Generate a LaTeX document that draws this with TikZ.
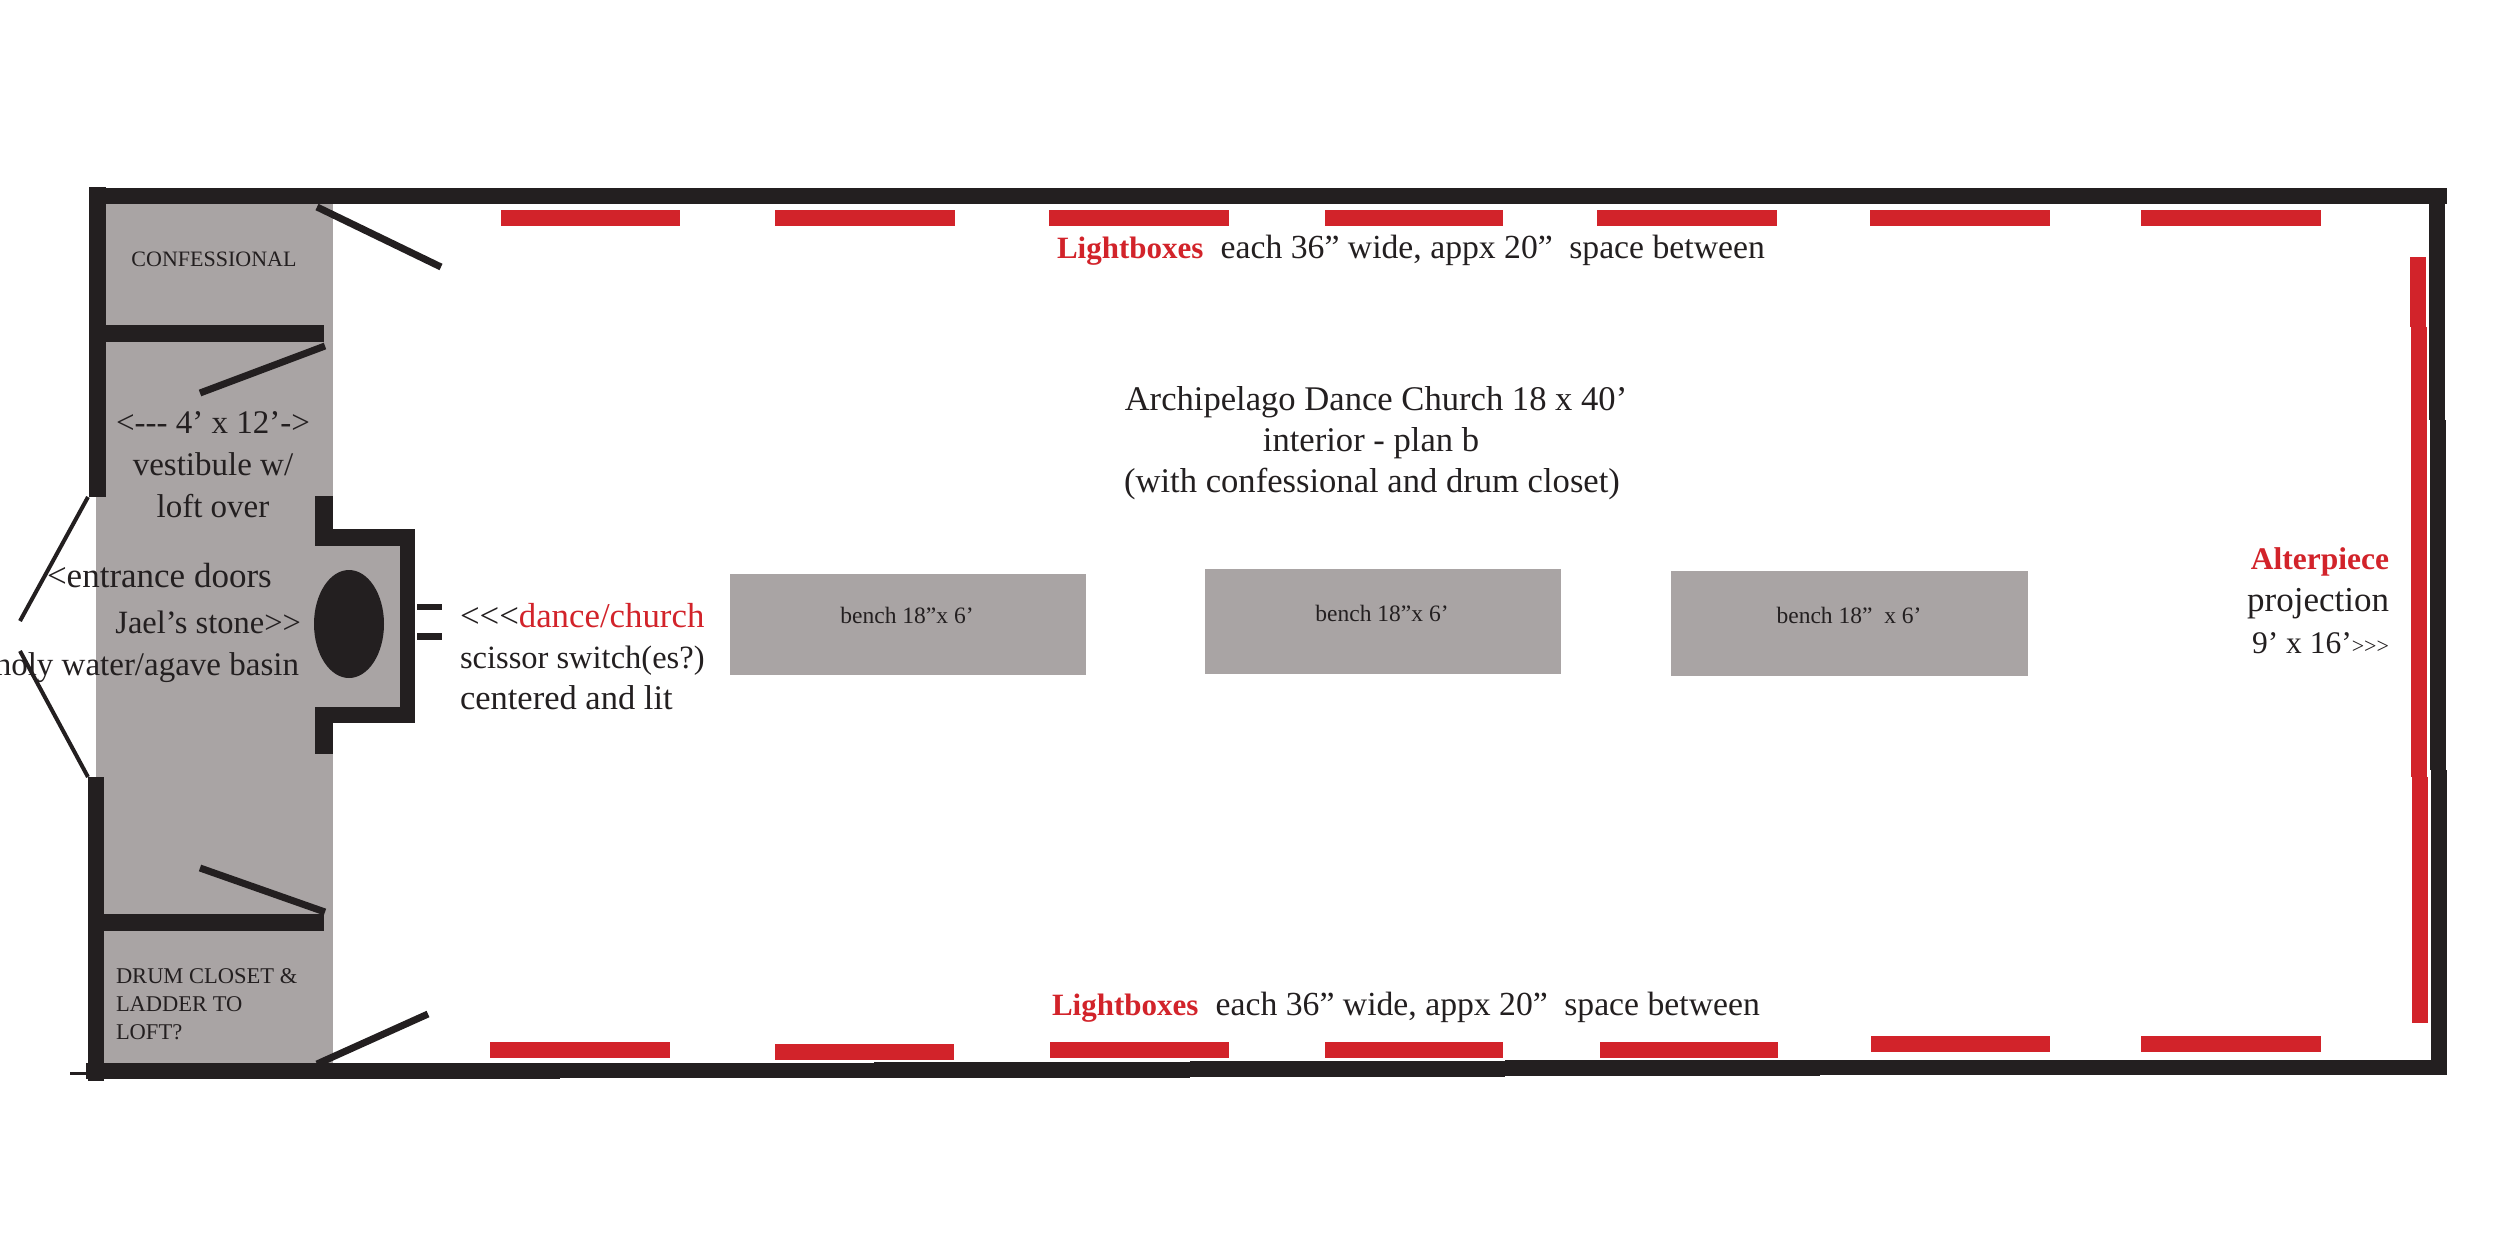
\documentclass[tikz,border=0pt]{standalone}
\usepackage{fontspec}
\setmainfont{Liberation Serif}[Ligatures=TeXOff]
\definecolor{wallk}{HTML}{231F20}
\definecolor{floorg}{HTML}{A9A4A4}
\definecolor{lightr}{HTML}{D2232A}
\newcommand{\fsz}[2]{\fontsize{#1}{#2}\selectfont}
\tikzset{
  x=1pt,y=-1pt,
  wall/.style={fill=wallk,draw=none},
  grayfloor/.style={fill=floorg,draw=none},
  redbar/.style={fill=lightr,draw=none},
  door/.style={draw=wallk,line width=7pt},
  doorthin/.style={draw=wallk,line width=4pt},
  lab/.style={inner sep=0pt,outer sep=0pt,text=wallk,anchor=base,font=\fsz{33}{41}},
  labl/.style={lab,anchor=base west},
  labr/.style={lab,anchor=base east},
  small/.style={lab,font=\fsz{22.5}{28}},
  benchlab/.style={lab,font=\fsz{23.5}{28}},
  title/.style={lab,font=\fsz{34.6}{41}}
}
\newcommand{\lightline}{\textcolor{lightr}{\fsz{31}{41}\textbf{Lightboxes}}\hspace{9pt} \fsz{33.7}{41}each 36” wide, appx 20”\hspace{8pt} space between}
\begin{document}
\begin{tikzpicture}
\useasboundingbox (0,0) rectangle (2500,1250);
% floor
\fill[grayfloor] (96,204) rectangle (333,1064);
\fill[grayfloor] (333,546) rectangle (400,707);
% benches
\fill[grayfloor] (730,574) rectangle (1086,675);
\fill[grayfloor] (1205,569) rectangle (1561,674);
\fill[grayfloor] (1671,571) rectangle (2028,676);
% outer walls
\fill[wall] (89,188) rectangle (2447,204);
\fill[wall] (89,187) rectangle (106,497);
\fill[wall] (88,777) rectangle (104,1081);
\fill[wall] (2429,188) rectangle (2445,420);
\fill[wall] (2430,420) rectangle (2446,770);
\fill[wall] (2431,770) rectangle (2447,1075.3);
\fill[wall] (86,1063.3) rectangle (560,1079);
\fill[wall] (560,1062.7) rectangle (874,1078.3);
\fill[wall] (874,1062) rectangle (1190,1077.7);
\fill[wall] (1190,1061.3) rectangle (1505,1077);
\fill[wall] (1505,1060.3) rectangle (1820,1076.3);
\fill[wall] (1820,1059.7) rectangle (2447,1075.3);
\fill[wall] (70,1072) rectangle (86,1075);
% dividers
\fill[wall] (106,325) rectangle (324,342);
\fill[wall] (104,914) rectangle (324,931);
% alcove
\fill[wall] (315,496) rectangle (333,546);
\fill[wall] (315,529) rectangle (415,546);
\fill[wall] (400,529) rectangle (415,723);
\fill[wall] (315,707) rectangle (415,723);
\fill[wall] (315,707) rectangle (333,754);
\fill[wall] (349,624) ellipse [x radius=35,y radius=54];
% switches
\fill[wall] (417,604) rectangle (442,610);
\fill[wall] (417,633) rectangle (442,640);
% doors
\draw[door] (317,207) -- (441,267);
\draw[door] (325,346) -- (200,393);
\draw[door] (200,868) -- (325,912);
\draw[door] (317,1064) -- (428,1014);
\draw[doorthin] (88,497) -- (20,621);
\draw[doorthin] (20,651) -- (88,777);
% red top
\fill[redbar] (500.5,210) rectangle (680,226);
\fill[redbar] (775,210) rectangle (955,226);
\fill[redbar] (1049,210) rectangle (1229,226);
\fill[redbar] (1325,210) rectangle (1503,226);
\fill[redbar] (1597,210) rectangle (1777,226);
\fill[redbar] (1870,210) rectangle (2050,226);
\fill[redbar] (2141,210) rectangle (2321,226);
% red bottom
\fill[redbar] (490,1042.3) rectangle (670,1058.3);
\fill[redbar] (774.5,1044.3) rectangle (954,1060.3);
\fill[redbar] (1050,1042.3) rectangle (1229,1058.3);
\fill[redbar] (1324.5,1042.3) rectangle (1503,1058.3);
\fill[redbar] (1600,1042.3) rectangle (1778,1058.3);
\fill[redbar] (1871,1036) rectangle (2050,1052);
\fill[redbar] (2141,1036) rectangle (2321,1052);
% red altar
\fill[redbar] (2410,257) rectangle (2426,327);
\fill[redbar] (2411,327) rectangle (2427,777);
\fill[redbar] (2412,777) rectangle (2428,1023);
% texts
\node[small,font=\fsz{22}{28}] (conf) at (214,266) {CONFESSIONAL};
\node[lab] (dim) at (213,433) {<--- 4’ x 12’->};
\node[lab] (vest) at (213,475) {vestibule w/};
\node[lab] (loft) at (213,517) {loft over};
\node[labl,font=\fsz{35}{41}] (entr) at (47,587) {<entrance doors};
\node[labr,font=\fsz{32.5}{41}] (stone) at (301,633) {Jael’s stone>>};
\node[labr] (basin) at (299,675) {holy water/agave basin};
\node[labl,font=\fsz{34.8}{41}] (dc) at (460,627) {<<<\textcolor{lightr}{dance/church}};
\node[labl,font=\fsz{32.5}{41}] (sc) at (460,668) {scissor switch(es?)};
\node[labl,font=\fsz{34.5}{41}] (cl) at (460,709) {centered and lit};
\node[title] (t1) at (1376,410) {Archipelago Dance Church 18 x 40’};
\node[title] (t2) at (1371,451) {interior - plan b};
\node[title] (t3) at (1372,492) {(with confessional and drum closet)};
\node[labl] (lt) at (1057,258) {\lightline};
\node[labl] (lb) at (1052,1015) {\lightline};
\node[benchlab] (b1) at (907,623) {bench 18”x 6’};
\node[benchlab] (b2) at (1382,621) {bench 18”x 6’};
\node[benchlab] (b3) at (1849,623) {bench 18”~ x 6’};
\node[small,anchor=base west] (d1) at (116,983) {DRUM CLOSET \&};
\node[small,anchor=base west] (d2) at (116,1011) {LADDER TO};
\node[small,anchor=base west] (d3) at (116,1039) {LOFT?};
\node[labr,font=\fsz{31.5}{41}] (a1) at (2389,569) {\textcolor{lightr}{\textbf{Alterpiece}}};
\node[labr,font=\fsz{35}{41}] (a2) at (2389,611) {projection};
\node[labr,font=\fsz{31.5}{41}] (a3) at (2389,653) {9’ x 16’{\fsz{22}{28}>>>}};
\end{tikzpicture}
\end{document}
